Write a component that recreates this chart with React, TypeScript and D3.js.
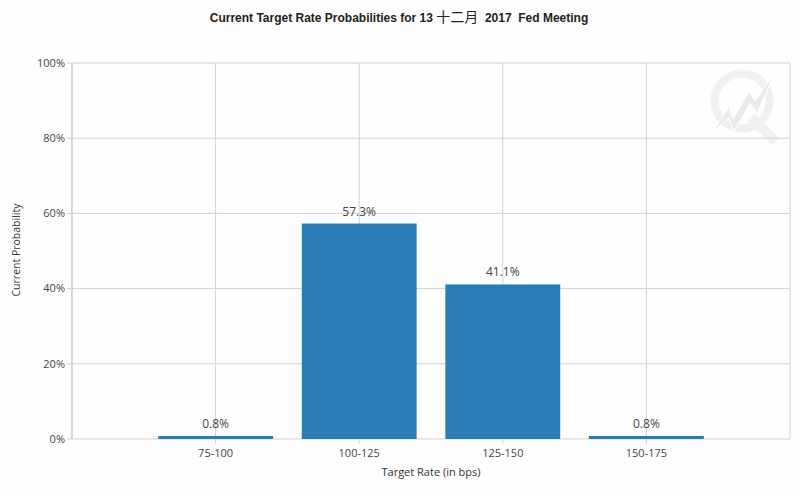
import { useEffect, useRef } from 'react';
import * as d3 from 'd3';

const categories = ['75-100', '100-125', '125-150', '150-175'];
const probabilities = [0.8, 57.3, 41.1, 0.8];
const yTicks = [0, 20, 40, 60, 80, 100];

const width = 800;
const height = 496;
const margin = { top: 63, right: 10, bottom: 57, left: 72 };
const font = '"Open Sans", "Noto Sans CJK SC", sans-serif';

export default function App() {
  const ref = useRef<SVGSVGElement | null>(null);

  useEffect(() => {
    if (!ref.current) return;
    const svg = d3.select(ref.current);
    svg.selectAll('*').remove();

    const x = d3.scaleLinear()
      .domain([-1, categories.length])
      .range([margin.left, width - margin.right]);
    const y = d3.scaleLinear()
      .domain([0, 100])
      .range([height - margin.bottom, margin.top]);
    const barWidth = (x(1) - x(0)) * 0.8;

    svg.append('rect').attr('width', width).attr('height', height).attr('fill', '#fefefe');

    // watermark goes under the grid
    const mark = svg.append('g').attr('fill', 'none').attr('stroke', '#f0f1f2');
    mark.append('circle').attr('cx', 742).attr('cy', 101).attr('r', 27.5).attr('stroke-width', 8);
    mark.append('path').attr('d', 'M751 117L776 142').attr('stroke-width', 10);
    mark.append('path')
      .attr('d', 'M712 133L729 107L733 119L749 92L755 101L775 73L757 113L750 103L734 131L729 117Z')
      .attr('fill', '#e9eaeb')
      .attr('stroke', '#fefefe')
      .attr('stroke-width', 1);

    svg.append('g')
      .selectAll('line')
      .data(yTicks)
      .enter()
      .append('line')
      .attr('x1', margin.left - 5)
      .attr('x2', width - margin.right)
      .attr('y1', d => y(d))
      .attr('y2', d => y(d))
      .attr('stroke', '#d2d2d2')
      .attr('stroke-width', 1);

    svg.append('g')
      .selectAll('line')
      .data(d3.range(-1, categories.length + 1))
      .enter()
      .append('line')
      .attr('x1', d => x(d))
      .attr('x2', d => x(d))
      .attr('y1', margin.top)
      .attr('y2', d => (d === -1 || d === categories.length ? y(0) : y(0) + 5))
      .attr('stroke', d => (d === -1 ? '#b4b4b4' : '#d2d2d2'))
      .attr('stroke-width', 1);

    svg.selectAll('rect.bar')
      .data(probabilities)
      .enter()
      .append('rect')
      .attr('class', 'bar')
      .attr('x', (_, i) => x(i) - barWidth / 2)
      .attr('y', d => y(d))
      .attr('width', barWidth)
      .attr('height', d => y(0) - y(d))
      .attr('fill', '#2a7cb5');

    svg.selectAll('text.value')
      .data(probabilities)
      .enter()
      .append('text')
      .attr('class', 'value')
      .attr('x', (_, i) => x(i))
      .attr('y', d => y(d) - 8)
      .attr('text-anchor', 'middle')
      .attr('font-size', '12px')
      .attr('fill', '#444')
      .text(d => `${d.toFixed(1)}%`);

    svg.selectAll('text.cat')
      .data(categories)
      .enter()
      .append('text')
      .attr('class', 'cat')
      .attr('x', (_, i) => x(i))
      .attr('y', height - 39)
      .attr('text-anchor', 'middle')
      .attr('font-size', '11px')
      .attr('fill', '#444')
      .text(d => d);

    svg.selectAll('text.ytick')
      .data(yTicks)
      .enter()
      .append('text')
      .attr('class', 'ytick')
      .attr('x', margin.left - 7)
      .attr('y', d => y(d))
      .attr('dy', '0.35em')
      .attr('text-anchor', 'end')
      .attr('font-size', '11px')
      .attr('fill', '#444')
      .text(d => `${d}%`);

    svg.append('text')
      .attr('x', 431)
      .attr('y', 476)
      .attr('text-anchor', 'middle')
      .attr('font-size', '11px')
      .attr('fill', '#333')
      .text('Target Rate (in bps)');

    svg.append('text')
      .attr('transform', 'translate(20,250) rotate(-90)')
      .attr('text-anchor', 'middle')
      .attr('font-size', '10.5px')
      .attr('fill', '#333')
      .text('Current Probability');

    const title = svg.append('text')
      .attr('x', 399)
      .attr('y', 22)
      .attr('text-anchor', 'middle')
      .attr('font-size', '12px')
      .attr('font-weight', 'bold')
      .attr('font-family', '"Liberation Sans", sans-serif')
      .attr('fill', '#222')
      .style('white-space', 'pre');
    title.append('tspan').text('Current Target Rate Probabilities for 13 ');
    title.append('tspan')
      .attr('font-size', '14px')
      .attr('font-weight', 'normal')
      .attr('font-family', '"Noto Sans CJK SC", sans-serif')
      .text('十二月');
    title.append('tspan').text('  2017  Fed Meeting');
  }, []);

  return (
    <svg
      ref={ref}
      width={width}
      height={height}
      style={{ position: 'absolute', left: 0, top: 0, fontFamily: font }}
    />
  );
}
